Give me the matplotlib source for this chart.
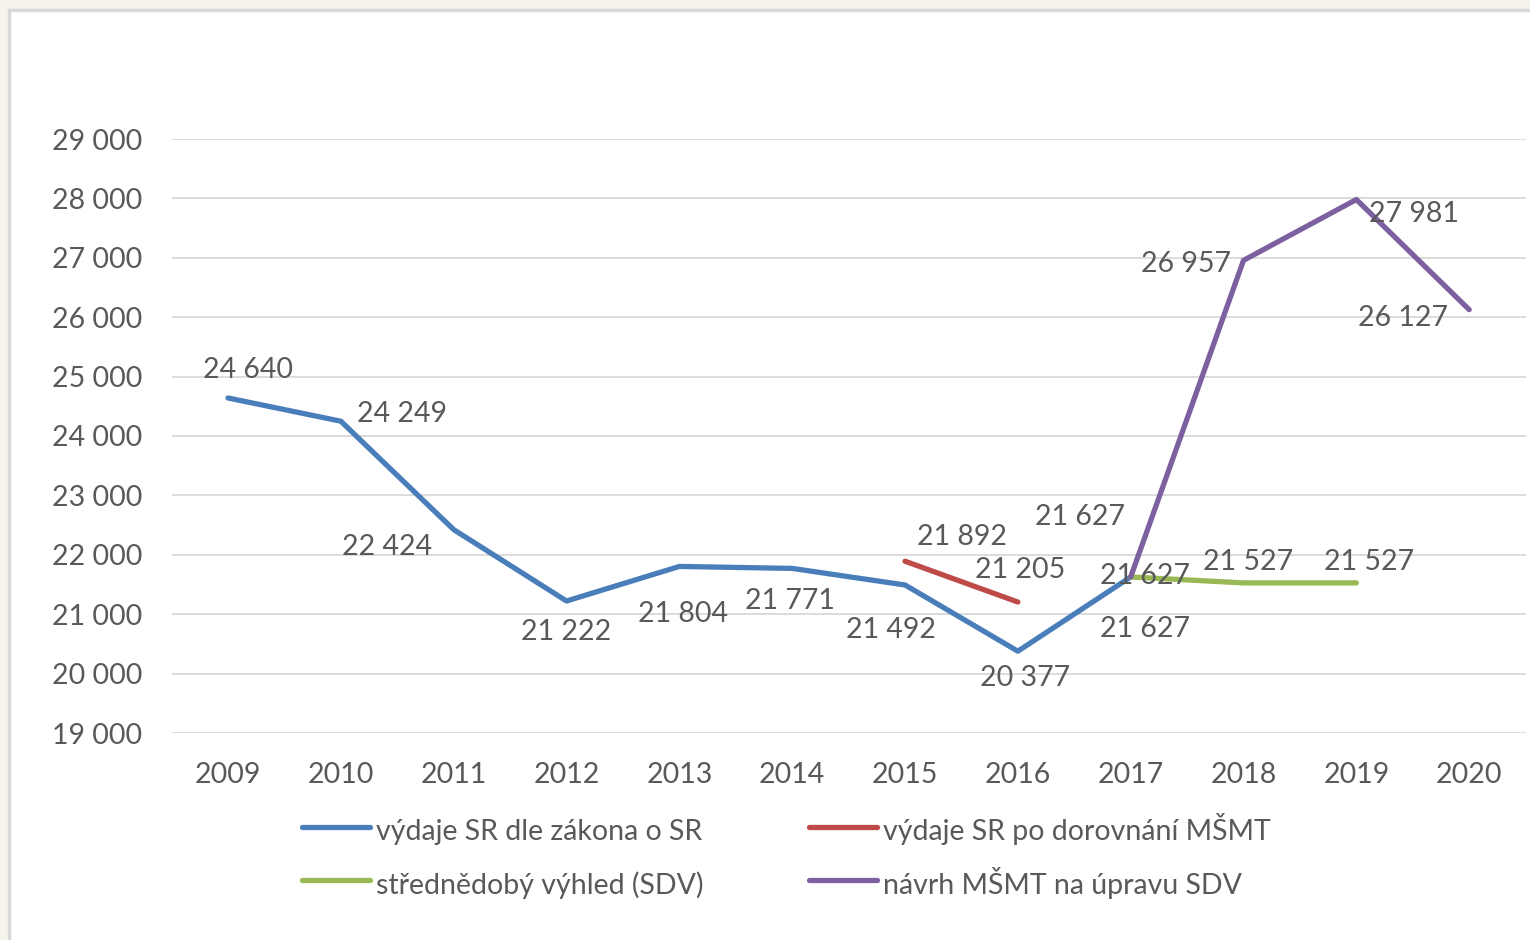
import matplotlib
matplotlib.use("Agg")
import matplotlib.pyplot as plt
from matplotlib.patches import Rectangle

plt.rcParams['font.family'] = ['Lato', 'DejaVu Sans']

years = [2009, 2010, 2011, 2012, 2013, 2014, 2015, 2016, 2017, 2018, 2019, 2020]
blue_years = [2009, 2010, 2011, 2012, 2013, 2014, 2015, 2016, 2017]
blue_vals = [24640, 24249, 22424, 21222, 21804, 21771, 21492, 20377, 21627]
red_years = [2015, 2016]
red_vals = [21892, 21205]
green_years = [2017, 2018, 2019]
green_vals = [21627, 21527, 21527]
purple_years = [2017, 2018, 2019, 2020]
purple_vals = [21627, 26957, 27981, 26127]
yticks = [19000, 20000, 21000, 22000, 23000, 24000, 25000, 26000, 27000, 28000, 29000]

names = ["výdaje SR dle zákona o SR", "výdaje SR po dorovnání MŠMT",
         "střednědobý výhled (SDV)", "návrh MŠMT na úpravu SDV"]
colors = ["#4a7ebb", "#be4b48", "#98b954", "#7d60a0"]
TXT = "#595959"
FS = 20.5

def fmt(v):
    return f"{v:,}".replace(",", " ")

W, H = 1530, 940
fig = plt.figure(figsize=(W / 100, H / 100), dpi=100, facecolor="#f6f2ec")
# white chart area with border
fig.patches.append(Rectangle((9 / W, -0.01), 1 - 9 / W + 0.01, 1 - 10 / H + 0.01, transform=fig.transFigure,
                             facecolor="white", edgecolor="#d9d9d9", linewidth=2.5, zorder=-5))

ax = fig.add_axes([171.6 / W, 1 - 733 / H, (1525.6 - 171.6) / W, (733 - 139) / H])
ax.set_zorder(2)
ax.set_facecolor("none")
ax.set_xlim(2008.5, 2020.5)
ax.set_ylim(19000, 29000)
ax.set_yticks(yticks)
ax.set_yticklabels([fmt(v) for v in yticks])
ax.set_xticks(years)
ax.set_xticklabels([str(y) for y in years])
ax.tick_params(axis='both', length=0, labelsize=FS, colors=TXT)
ax.tick_params(axis='y', pad=21)
ax.tick_params(axis='x', pad=21)
for s in ax.spines.values():
    s.set_visible(False)
ax.grid(axis='y', color="#d9d9d9", linewidth=1.3)
ax.set_axisbelow(True)

lw = 3.8
kw = dict(lw=lw, solid_capstyle='round', solid_joinstyle='round')
lb, = ax.plot(blue_years, blue_vals, color=colors[0], **kw)
lr, = ax.plot(red_years, red_vals, color=colors[1], **kw)
lg, = ax.plot(green_years, green_vals, color=colors[2], **kw)
lp, = ax.plot(purple_years, purple_vals, color=colors[3], **kw)

def lab(x, v, dx, dy):
    ax.annotate(fmt(v), (x, v), xytext=(dx, dy - 2), textcoords='offset pixels',
                ha='center', va='center', fontsize=FS, color=TXT, zorder=5)

blue_off = [(20, 30), (61, 9), (-67, -15), (0, -29), (4, -46), (-2, -31), (-14, -43), (7, -25), (14, -50)]
for x, v, (dx, dy) in zip(blue_years, blue_vals, blue_off):
    lab(x, v, dx, dy)
red_off = [(57, 26), (2, 34)]
for x, v, (dx, dy) in zip(red_years, red_vals, red_off):
    lab(x, v, dx, dy)
green_off = [(14, 3), (5, 23), (13, 23)]
for x, v, (dx, dy) in zip(green_years, green_vals, green_off):
    lab(x, v, dx, dy)
purple_off = [(-51, 62), (-58, -2), (58, -12), (-66, -6)]
for x, v, (dx, dy) in zip(purple_years, purple_vals, purple_off):
    lab(x, v, dx, dy)

leg = fig.legend([lb, lg, lr, lp], [names[0], names[2], names[1], names[3]], ncol=2,
                 loc='upper left', bbox_to_anchor=(302 / W, 1 - 813 / H), frameon=False,
                 fontsize=FS, handlelength=2.4, handletextpad=0.2, columnspacing=3.7,
                 handleheight=1.5, labelspacing=0.66, borderpad=0, borderaxespad=0)
for t in leg.get_texts():
    t.set_color(TXT)
for h in leg.get_lines():
    h.set_linewidth(lw)
    h.set_solid_capstyle('round')

fig.savefig("out.png", dpi=100, facecolor=fig.get_facecolor())
